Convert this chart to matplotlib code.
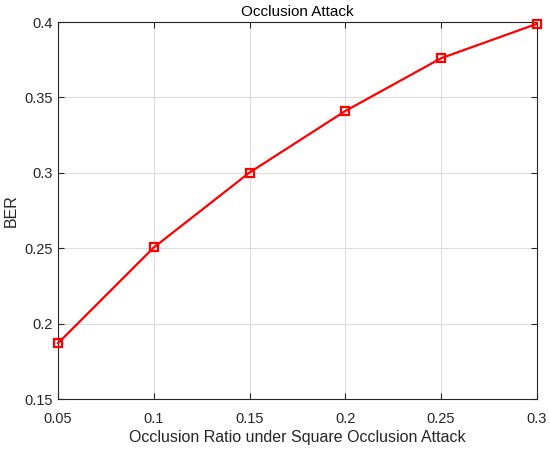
import matplotlib
matplotlib.use('Agg')
import matplotlib.pyplot as plt

# data
ratio = [0.05, 0.1, 0.15, 0.2, 0.25, 0.3]
ber = [0.187, 0.2505, 0.3002, 0.341, 0.376, 0.3988]

plt.rcParams['font.family'] = ['Liberation Sans', 'DejaVu Sans']

fig = plt.figure(figsize=(5.5, 4.5), dpi=100)
ax = fig.add_axes([0.1055, 0.1133, 0.8705, 0.8377])

ax.plot(ratio, ber, color='red', linewidth=1.6, marker='s', markersize=6,
        markerfacecolor='none', markeredgecolor='red', markeredgewidth=1.6,
        zorder=3, clip_on=False)

ax.set_xlim(0.05, 0.3)
ax.set_ylim(0.15, 0.4)
ax.set_xticks([0.05, 0.1, 0.15, 0.2, 0.25, 0.3])
ax.set_xticklabels(['0.05', '0.1', '0.15', '0.2', '0.25', '0.3'])
ax.set_yticks([0.15, 0.2, 0.25, 0.3, 0.35, 0.4])
ax.set_yticklabels(['0.15', '0.2', '0.25', '0.3', '0.35', '0.4'])

ax.grid(True, color='#dcdcdc', linewidth=0.8)
ax.set_axisbelow(True)
ax.tick_params(direction='in', top=True, right=True, length=4, width=0.8,
               colors='#262626', labelsize=10.5, labelcolor='#262626')
ax.tick_params(axis='x', pad=9)
ax.tick_params(axis='y', pad=4)
for s in ax.spines.values():
    s.set_color('#262626')
    s.set_linewidth(0.8)

ax.set_title('Occlusion Attack', fontsize=11, color='black', pad=4)
ax.set_xlabel('Occlusion Ratio under Square Occlusion Attack', fontsize=11.5,
              color='#262626', labelpad=3)
ax.set_ylabel('BER', fontsize=11.5, color='#262626')
ax.yaxis.set_label_coords(-0.083, 0.5)

fig.savefig('out.png', dpi=100)
